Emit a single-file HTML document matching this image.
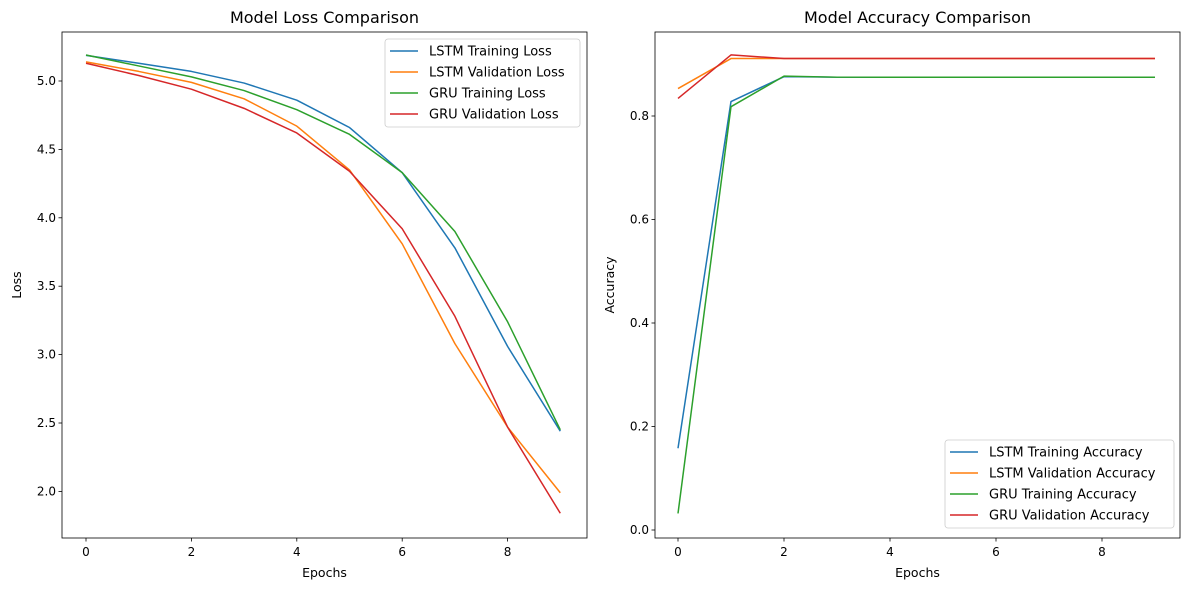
<!DOCTYPE html>
<html><head><meta charset="utf-8"><style>
body{margin:0;background:#fff;}
svg{display:block;font-family:"DejaVu Sans","Liberation Sans",sans-serif;}
</style></head><body>
<svg id="chart" width="1189" height="590"></svg>
<script>
const epochs = [0,1,2,3,4,5,6,7,8,9];
const lstmTrainLoss = [5.187,5.13,5.07,4.985,4.86,4.66,4.33,3.78,3.06,2.44];
const lstmValLoss = [5.14,5.07,4.99,4.87,4.67,4.35,3.81,3.08,2.47,1.99];
const gruTrainLoss = [5.19,5.11,5.03,4.93,4.79,4.61,4.33,3.90,3.24,2.45];
const gruValLoss = [5.13,5.04,4.94,4.80,4.62,4.34,3.92,3.28,2.47,1.84];
const lstmTrainAcc = [0.158,0.828,0.876,0.875,0.875,0.875,0.875,0.875,0.875,0.875];
const lstmValAcc = [0.853,0.911,0.911,0.911,0.911,0.911,0.911,0.911,0.911,0.911];
const gruTrainAcc = [0.032,0.818,0.877,0.875,0.875,0.875,0.875,0.875,0.875,0.875];
const gruValAcc = [0.834,0.918,0.911,0.911,0.911,0.911,0.911,0.911,0.911,0.911];
const xTicks = [0,2,4,6,8];
const lossTicks = [2.0,2.5,3.0,3.5,4.0,4.5,5.0];
const accTicks = [0.0,0.2,0.4,0.6,0.8];

const NS="http://www.w3.org/2000/svg";
const svg=document.getElementById('chart');
function mk(tag,attrs,parent){const e=document.createElementNS(NS,tag);for(const k in attrs)e.setAttribute(k,attrs[k]);(parent||svg).appendChild(e);return e;}
const colors=['#1f77b4','#ff7f0e','#2ca02c','#d62728'];

function panel(cfg){
  const g=mk('g',{});
  
  
  const xs=v=>cfg.x0+(v)*cfg.xPer;
  const ys=v=>cfg.yRef-(v-cfg.vRef)*cfg.yPer;
  mk('rect',{x:cfg.L,y:cfg.T,width:cfg.R-cfg.L,height:cfg.B-cfg.T,fill:'#fff',stroke:'none'},g);
  cfg.series.forEach((s,i)=>{
    const p=mk('polyline',{points:epochs.map((e,j)=>xs(e)+','+ys(s[j])).join(' '),fill:'none',stroke:colors[i],'stroke-width':1.5,'stroke-linejoin':'round'},g);
    
    
  });
  mk('rect',{x:cfg.L,y:cfg.T,width:cfg.R-cfg.L,height:cfg.B-cfg.T,fill:'none',stroke:'#000','stroke-width':0.8},g);
  xTicks.forEach(t=>{
    const x=xs(t);
    mk('line',{x1:x,y1:cfg.B,x2:x,y2:cfg.B+3.5,stroke:'#000','stroke-width':0.8},g);
    const tx=mk('text',{x:x,y:cfg.B+18,'font-size':12,'text-anchor':'middle',fill:'#000'},g);tx.textContent=t;
    
    
  });
  cfg.yTicks.forEach(t=>{
    const y=ys(t);
    mk('line',{x1:cfg.L-3.5,y1:y,x2:cfg.L,y2:y,stroke:'#000','stroke-width':0.8},g);
    const tx=mk('text',{x:cfg.L-6,y:y+4,'font-size':12,'text-anchor':'end',fill:'#000'},g);tx.textContent=t.toFixed(1);
    
    
  });
  const title=mk('text',{x:(cfg.L+cfg.R)/2,y:cfg.T-9,'font-size':16,'text-anchor':'middle'},g);title.textContent=cfg.title;
  
  
  const xl=mk('text',{x:(cfg.L+cfg.R)/2,y:cfg.B+39,'font-size':12.5,'text-anchor':'middle'},g);xl.textContent='Epochs';
  
  
  const yl=mk('text',{x:cfg.ylx,y:(cfg.T+cfg.B)/2,'font-size':12.5,'text-anchor':'middle',transform:`rotate(-90 ${cfg.ylx} ${(cfg.T+cfg.B)/2})`},g);yl.textContent=cfg.ylabel;
  
  
  const lg=mk('g',{},g);
  
  
  mk('rect',{x:cfg.lgx,y:cfg.lgy,width:cfg.lgw,height:88,rx:3,fill:'#fff','fill-opacity':0.8,stroke:'#ccc','stroke-width':0.8},lg);
  cfg.labels.forEach((l,i)=>{
    const y=cfg.lgy+12+i*21;
    mk('line',{x1:cfg.lgx+5,y1:y,x2:cfg.lgx+33,y2:y,stroke:colors[i],'stroke-width':1.5},lg);
    const t=mk('text',{x:cfg.lgx+44,y:y+4.5,'font-size':13},lg);t.textContent=l;
    
    
  });
}
panel({name:'loss-panel',L:62,R:587,T:32,B:538,x0:86,xPer:52.7,yRef:81,vRef:5.0,yPer:136.8,yTicks:lossTicks,
  series:[lstmTrainLoss,lstmValLoss,gruTrainLoss,gruValLoss],
  labels:['LSTM Training Loss','LSTM Validation Loss','GRU Training Loss','GRU Validation Loss'],
  title:'Model Loss Comparison',ylabel:'Loss',ylx:21,lgx:385,lgy:39,lgw:195});
panel({name:'accuracy-panel',L:655,R:1180,T:32,B:538,x0:678,xPer:53,yRef:530,vRef:0,yPer:517.5,yTicks:accTicks,
  series:[lstmTrainAcc,lstmValAcc,gruTrainAcc,gruValAcc],
  labels:['LSTM Training Accuracy','LSTM Validation Accuracy','GRU Training Accuracy','GRU Validation Accuracy'],
  title:'Model Accuracy Comparison',ylabel:'Accuracy',ylx:614,lgx:945,lgy:440,lgw:229});
</script>
</body></html>
